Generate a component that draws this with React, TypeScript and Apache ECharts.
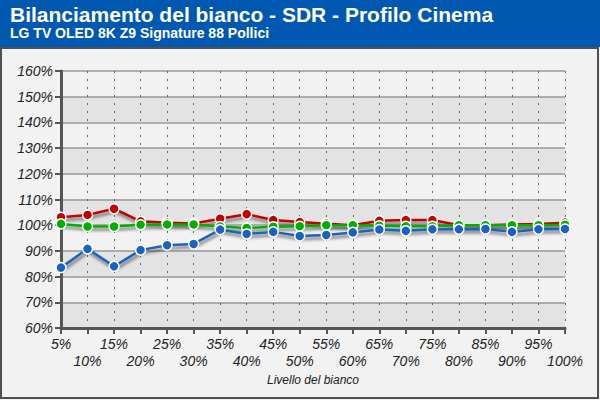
import React, { useEffect, useRef } from "react";
import * as echarts from "echarts";

const categories = ["5%", "10%", "15%", "20%", "25%", "30%", "35%", "40%", "45%", "50%", "55%", "60%", "65%", "70%", "75%", "80%", "85%", "90%", "95%", "100%"];
const redValues = [103.1, 104, 106.4, 101.5, 101, 100.7, 102.5, 104.3, 102, 101.2, 100.6, 100, 101.7, 102, 102, 100, 100, 100.3, 100.5, 101];
const greenValues = [100.5, 99.5, 99.5, 100.2, 100.3, 100.3, 99.5, 98.9, 99.4, 99.6, 100, 100, 99.8, 99.6, 99.6, 100, 100, 100, 100, 100.2];
const blueValues = [83.5, 90.8, 84, 90.3, 92.2, 92.7, 98.3, 96.6, 97.4, 95.8, 96.2, 97.2, 98.3, 97.8, 98.4, 98.4, 98.5, 97.4, 98.4, 98.5];

const FONT = "'Liberation Sans', Arial, sans-serif";

function mkSeries(name: string, data: number[], color: string) {
  return {
    name,
    type: "line",
    data,
    symbol: "circle",
    symbolSize: 10,
    showSymbol: true,
    itemStyle: { color, borderColor: "#ffffff", borderWidth: 1.5 },
    lineStyle: {
      color,
      width: 2.5,
      shadowColor: "rgba(0,0,0,0.5)",
      shadowBlur: 3,
      shadowOffsetX: 1,
      shadowOffsetY: 3,
    },
    emphasis: { disabled: true },
  };
}

export default function App() {
  const ref = useRef<HTMLDivElement>(null);
  useEffect(() => {
    if (!ref.current) return;
    const chart = echarts.init(ref.current, undefined, { renderer: "svg" });
    chart.setOption({
      animation: false,
      backgroundColor: "#f2f2f2",
      textStyle: { fontFamily: FONT },
      title: {
        text: "Bilanciamento del bianco - SDR - Profilo Cinema",
        subtext: "LG TV OLED 8K Z9 Signature 88 Pollici",
        left: 10,
        top: 4,
        itemGap: 1,
        padding: 0,
        textStyle: { color: "#ffffff", fontSize: 21, fontWeight: "bold", fontFamily: FONT },
        subtextStyle: { color: "#ffffff", fontSize: 14, fontWeight: "bold", fontFamily: FONT },
      },
      graphic: [
        { type: "rect", z: 0, shape: { x: 0, y: 0, width: 600, height: 47 }, style: { fill: "#0058b0" } },
        { type: "rect", z: 0, shape: { x: 1, y: 48, width: 597, height: 350 }, style: { fill: "none", stroke: "#505050", lineWidth: 2 } },
      ],
      grid: { left: 61, right: 35, top: 71, bottom: 72 },
      xAxis: {
        type: "category",
        data: categories,
        boundaryGap: false,
        name: "Livello del bianco",
        nameLocation: "middle",
        nameGap: 44,
        nameTextStyle: { fontSize: 12, fontStyle: "italic", color: "#222", fontFamily: FONT },
        axisLine: { lineStyle: { color: "#555", width: 3 } },
        axisTick: { show: true, length: 6, lineStyle: { color: "#555", width: 2 } },
        axisLabel: {
          interval: 0,
          margin: 7,
          fontSize: 14,
          fontStyle: "italic",
          color: "#222",
          lineHeight: 17,
          fontFamily: FONT,
          formatter: (v: string, i: number) => (i % 2 === 1 ? "\n" + v : v),
        },
        splitLine: { show: true, lineStyle: { color: "#666", type: [2, 6], width: 1 } },
      },
      yAxis: {
        type: "value",
        min: 60,
        max: 160,
        interval: 10,
        axisLine: { show: true, lineStyle: { color: "#555", width: 3 } },
        axisTick: { show: true, length: 6, lineStyle: { color: "#555", width: 2 } },
        axisLabel: { formatter: "{value}%", fontSize: 14, fontStyle: "italic", color: "#222", margin: 8, fontFamily: FONT },
        splitLine: { show: true, lineStyle: { color: "#999", width: 1.5 } },
        splitArea: { show: true, areaStyle: { color: ["#e3e3e3", "#f2f2f2"] } },
      },
      series: [
        mkSeries("R", redValues, "#c40000"),
        mkSeries("G", greenValues, "#00b000"),
        mkSeries("B", blueValues, "#1a62c0"),
      ],
    });
    return () => chart.dispose();
  }, []);
  return <div ref={ref} style={{ position: "fixed", left: 0, top: 0, width: 600, height: 400 }} />;
}
